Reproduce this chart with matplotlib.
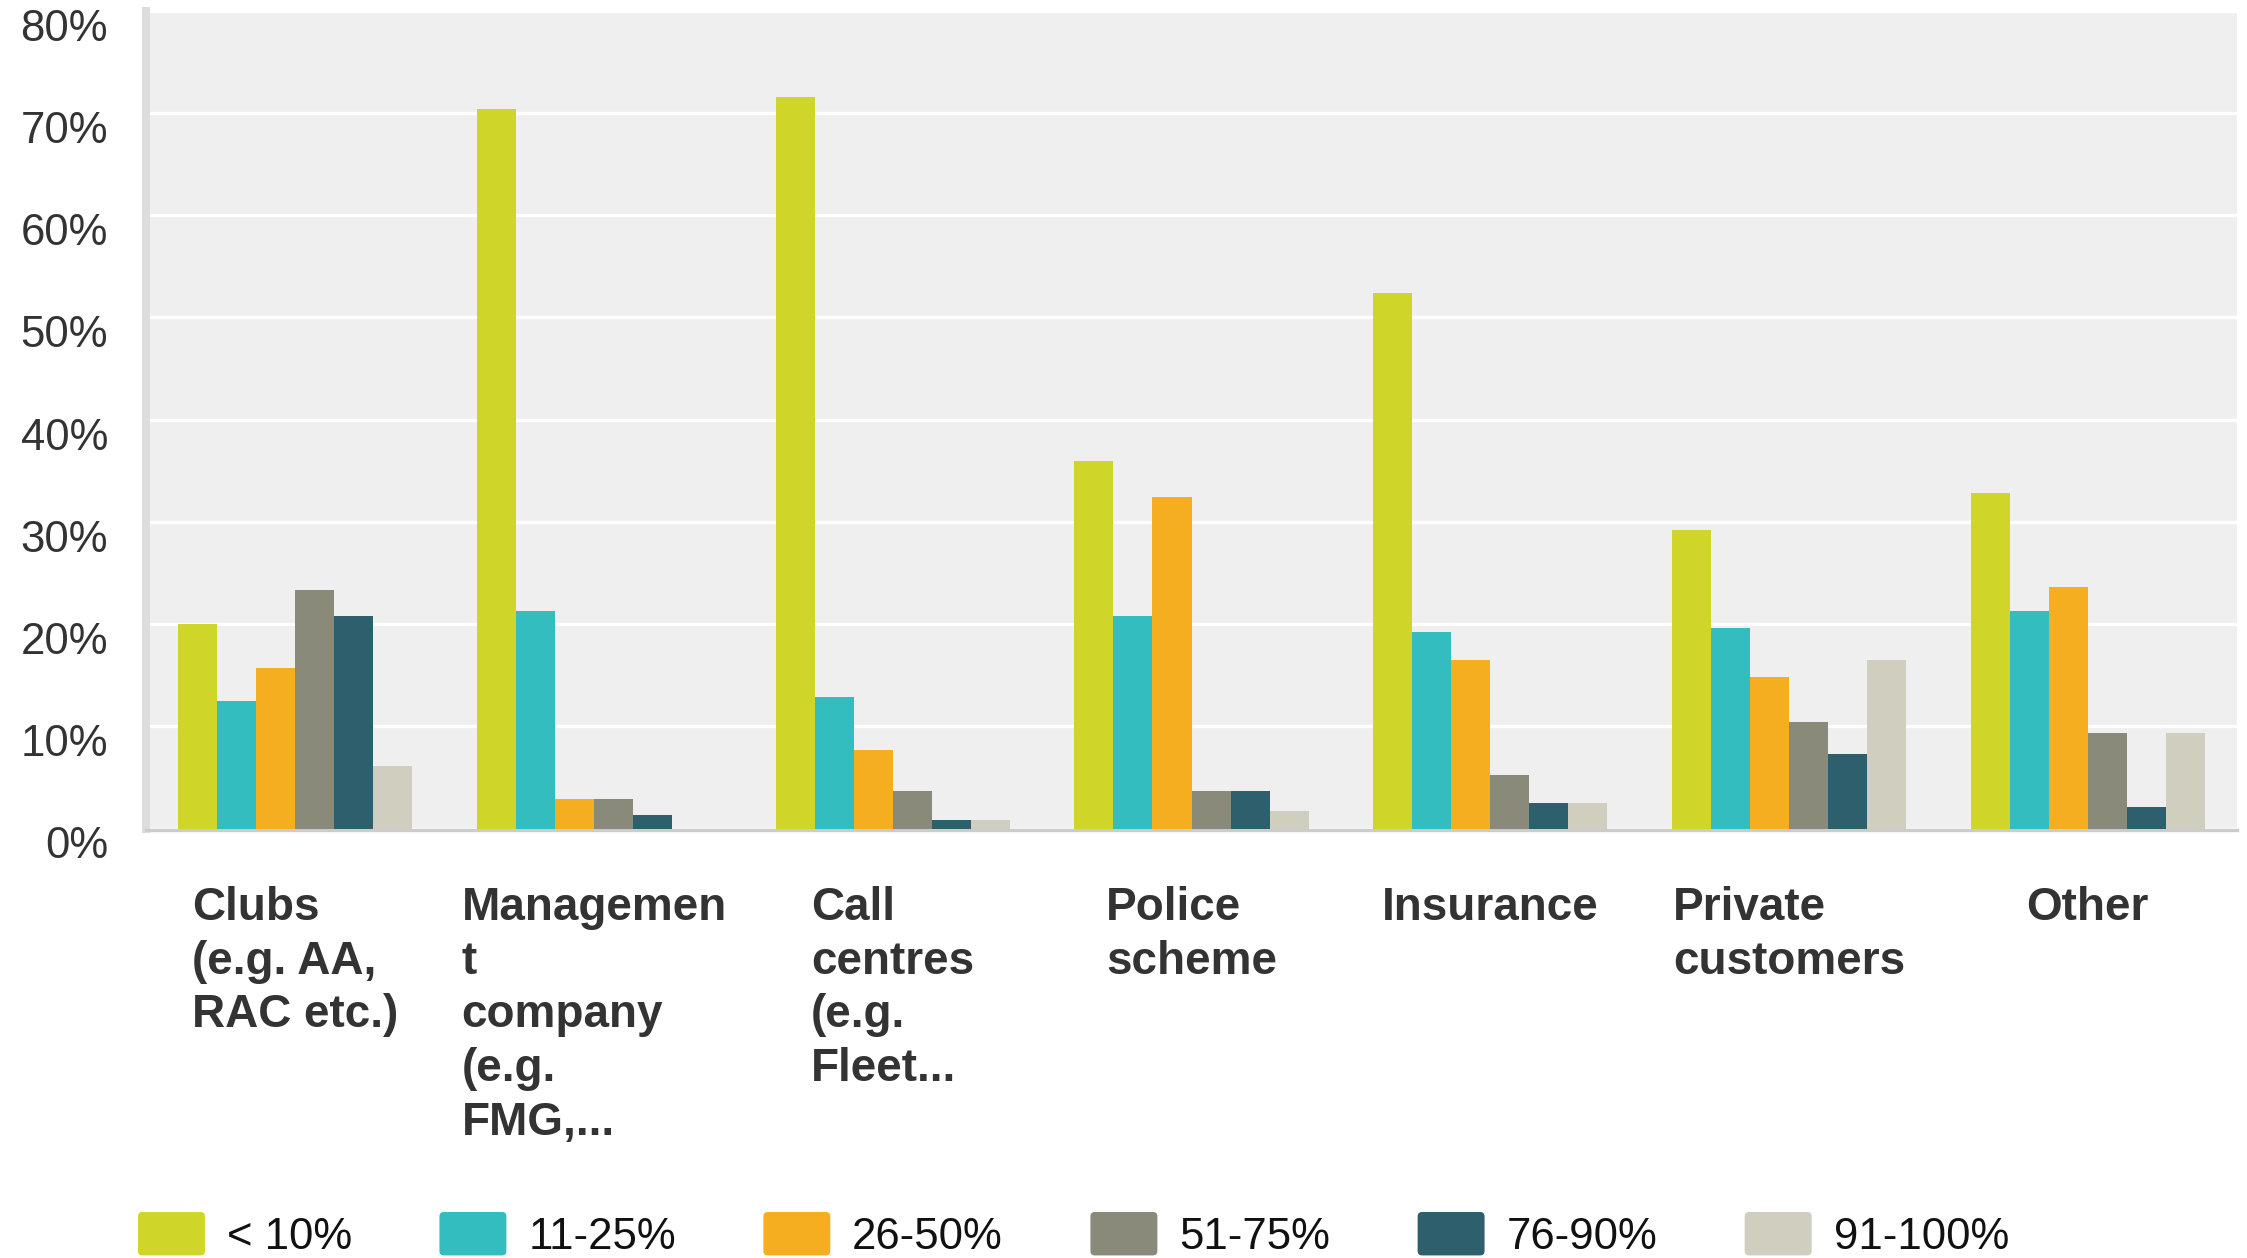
import matplotlib
matplotlib.use('Agg')
import matplotlib.pyplot as plt
import numpy as np
import matplotlib.transforms as mtransforms
from matplotlib.patches import Patch, FancyBboxPatch
from matplotlib.legend_handler import HandlerPatch

plt.rcParams['font.family'] = ['Liberation Sans', 'DejaVu Sans']

# ---------------- data ----------------
categories = [
    "Clubs\n(e.g. AA,\nRAC etc.)",
    "Managemen\nt\ncompany\n(e.g.\nFMG,...",
    "Call\ncentres\n(e.g.\nFleet...",
    "Police\nscheme",
    "Insurance",
    "Private\ncustomers",
    "Other",
]
series_names = ["< 10%", "11-25%", "26-50%", "51-75%", "76-90%", "91-100%"]
lt10 = [20.0, 70.4, 71.6, 36.0, 52.4, 29.2, 32.8]
s11_25 = [12.5, 21.3, 12.9, 20.8, 19.2, 19.6, 21.3]
s26_50 = [15.7, 2.9, 7.7, 32.4, 16.5, 14.8, 23.6]
s51_75 = [23.3, 2.9, 3.7, 3.7, 5.2, 10.4, 9.3]
s76_90 = [20.8, 1.3, 0.8, 3.7, 2.5, 7.3, 2.1]
s91_100 = [6.1, 0.0, 0.8, 1.7, 2.5, 16.5, 9.3]
yticks = [0, 10, 20, 30, 40, 50, 60, 70, 80]
ytick_labels = ["0%", "10%", "20%", "30%", "40%", "50%", "60%", "70%", "80%"]

series = [lt10, s11_25, s26_50, s51_75, s76_90, s91_100]
colors = ["#D0D52A", "#33BDBF", "#F6AE21", "#8A8A7B", "#2E5F6D", "#D0CEBF"]

# ---------------- figure ----------------
W, H = 2247, 1258
fig = plt.figure(figsize=(W / 100, H / 100), dpi=100)
fig.patch.set_facecolor('white')
ax = fig.add_axes([146 / W, 1 - 828.5 / H, (2237 - 146) / W, (828.5 - 10.9) / H])
ax.set_facecolor('#EFEFEF')

x = np.arange(len(categories))
step = 0.1306
for i, (vals, col, name) in enumerate(zip(series, colors, series_names)):
    ax.bar(x + (i - 2.5) * step, vals, width=step, color=col, edgecolor='none',
           label=name, zorder=3)

ax.set_xlim(-0.5, len(categories) - 0.5)
ax.set_ylim(0, 80)
ax.set_yticks(yticks)
ax.set_yticklabels(ytick_labels)
ax.yaxis.grid(True, color='white', linewidth=2.4, zorder=1)
ax.set_axisbelow(True)
ax.tick_params(axis='y', length=0, pad=27.4, labelsize=31.5, labelcolor='#333333')
ax.tick_params(axis='x', length=0, labelbottom=False)

offset = mtransforms.ScaledTranslation(0, -14 / 100, fig.dpi_scale_trans)
for t in ax.yaxis.get_major_ticks():
    t.label1.set_transform(t.label1.get_transform() + offset)

for s in ['top', 'right']:
    ax.spines[s].set_visible(False)
ax.spines['left'].set_color('#DDDDDD')
ax.spines['left'].set_linewidth(5.8)
ax.spines['bottom'].set_color('#CCCCCC')
ax.spines['bottom'].set_linewidth(2.45)
ax.spines['bottom'].set_position(('outward', 1.3))

# category labels
trans = mtransforms.blended_transform_factory(ax.transData, fig.transFigure)
for xi, lab in zip(x, categories):
    ax.text(xi, 1 - 886 / H, lab, transform=trans, ha='center', va='top',
            multialignment='left', fontsize=33, fontweight='bold', color='#333333',
            linespacing=1.285)

# legend with rounded patches
class RoundPatchHandler(HandlerPatch):
    def create_artists(self, legend, orig_handle, xdescent, ydescent, width, height,
                       fontsize, trans):
        r = 0.1 * fontsize
        p = FancyBboxPatch((-xdescent + r, -ydescent + r), width - 2 * r, height - 2 * r,
                           boxstyle=f"round,pad={r}", facecolor=orig_handle.get_facecolor(),
                           edgecolor='none', transform=trans)
        return [p]

handles = [Patch(facecolor=c) for c in colors]
fig.legend(handles, series_names, loc='upper left',
           bbox_to_anchor=(138 / W, 1 - 1212 / H), ncol=6, frameon=False,
           fontsize=31.5, handlelength=1.53, handleheight=1.15, handletextpad=0.5,
           columnspacing=2.0, borderpad=0, borderaxespad=0,
           handler_map={Patch: RoundPatchHandler()}, labelcolor='#111111')

fig.savefig('out.png', dpi=100)
